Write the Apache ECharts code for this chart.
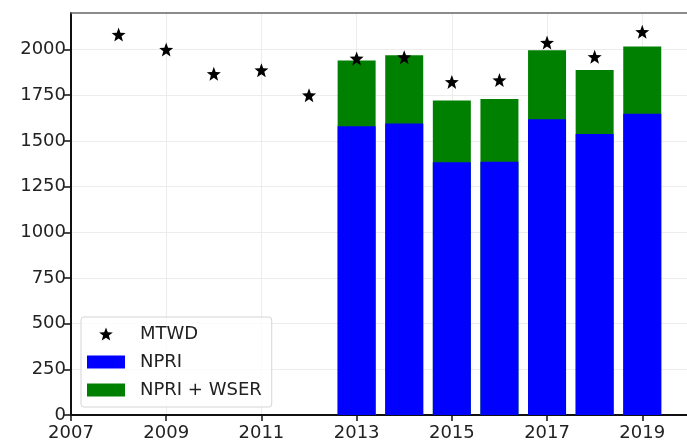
<!DOCTYPE html>
<html>
<head>
<meta charset="utf-8">
<script src="https://cdn.jsdelivr.net/npm/echarts@6/dist/echarts.min.js"></script>
<style>
html,body{margin:0;padding:0;background:#fff;}
#chart{width:687px;height:445px;}
</style>
</head>
<body>
<div id="chart"></div>
<script>
const mtwdYears = [2008, 2009, 2010, 2011, 2012, 2013, 2014, 2015, 2016, 2017, 2018, 2019];
const mtwdValues = [2082, 2000, 1867, 1887, 1750, 1951, 1958, 1823, 1833, 2038, 1960, 2097];
const barYears = [2013, 2014, 2015, 2016, 2017, 2018, 2019];
const npriValues = [1580, 1595, 1383, 1386, 1618, 1538, 1648];
const npriWserValues = [1940, 1969, 1721, 1730, 1996, 1888, 2016];
const xTickYears = [2007, 2009, 2011, 2013, 2015, 2017, 2019];
const yTicks = [0, 250, 500, 750, 1000, 1250, 1500, 1750, 2000];

const starPath = 'path://M50,0 L62.5,33 L97.6,34.5 L70,56 L79.4,90.5 L50,71 L20.6,90.5 L30,56 L2.4,34.5 L37.5,33 Z';
const font = 'DejaVu Sans';

const chart = echarts.init(document.getElementById('chart'), null, {renderer: 'canvas'});
chart.setOption({
  animation: false,
  backgroundColor: '#fff',
  textStyle: {fontFamily: font},
  grid: {left: 71, right: 0, top: 13, bottom: 30, show: false, containLabel: false},
  legend: {
    orient: 'vertical', left: 81, top: 317,
    data: [
      {name: 'MTWD', icon: starPath, itemStyle: {color: '#000', opacity: 1}},
      {name: 'NPRI', icon: 'rect'},
      {name: 'NPRI + WSER', icon: 'rect'}
    ],
    itemWidth: 38, itemHeight: 13, itemGap: 10,
    padding: [8, 10, 8, 6],
    borderColor: '#d5d5d5', borderWidth: 1, borderRadius: 3,
    backgroundColor: 'rgba(255,255,255,0.8)',
    textStyle: {fontFamily: font, fontSize: 18, color: '#222', padding: [0, 0, 0, 10]}
  },
  xAxis: [{
    type: 'value', min: 2007, max: 2019.94, interval: 2,
    axisLine: {show: true, lineStyle: {color: '#111', width: 2}},
    axisTick: {show: true, length: 6, customValues: xTickYears, lineStyle: {color: '#111', width: 1.5}},
    axisLabel: {
      fontFamily: font, fontSize: 18, color: '#222', margin: 9,
      customValues: xTickYears,
      formatter: v => String(Math.round(v))
    },
    splitLine: {show: true, lineStyle: {color: '#ececec', width: 1}}
  }, {
    type: 'value', position: 'top', min: 2007, max: 2019.94, interval: 2,
    axisLine: {show: true, lineStyle: {color: '#666', width: 1.5}},
    axisTick: {show: false}, axisLabel: {show: false}, splitLine: {show: false}
  }],
  yAxis: {
    type: 'value', min: 0, max: 2200, interval: 250,
    axisLine: {show: true, lineStyle: {color: '#111', width: 2}},
    axisTick: {show: true, length: 7, customValues: yTicks, lineStyle: {color: '#111', width: 1.5}},
    axisLabel: {
      fontFamily: font, fontSize: 18, color: '#222', margin: 5,
      customValues: yTicks,
      formatter: v => String(v)
    },
    splitLine: {show: true, lineStyle: {color: '#ececec', width: 1}}
  },
  series: [
    {
      name: 'NPRI + WSER', type: 'bar', barWidth: 38, barGap: '-100%',
      itemStyle: {color: '#008000'},
      data: barYears.map((y, i) => [y, npriWserValues[i]]),
      z: 2
    },
    {
      name: 'NPRI', type: 'bar', barWidth: 38, barGap: '-100%',
      itemStyle: {color: '#0000ff'},
      data: barYears.map((y, i) => [y, npriValues[i]]),
      z: 3
    },
    {
      name: 'MTWD', type: 'scatter', symbol: starPath, symbolSize: 14,
      itemStyle: {color: '#000', opacity: 1},
      data: mtwdYears.map((y, i) => [y, mtwdValues[i]]),
      z: 5
    }
  ]
});
</script>
</body>
</html>
